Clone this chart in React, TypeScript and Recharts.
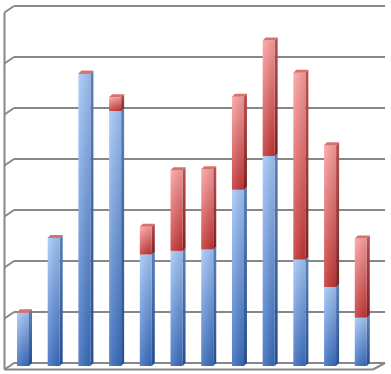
import { BarChart, Bar, XAxis, YAxis, CartesianGrid } from "recharts";

const months = ["Jan", "Feb", "Mar", "Apr", "May", "Jun", "Jul", "Aug", "Sep", "Oct", "Nov", "Dec"];
const baseValues = [1.05, 2.51, 5.73, 5.0, 2.19, 2.26, 2.29, 3.46, 4.12, 2.09, 1.55, 0.95];
const topValues = [0, 0, 0, 0.27, 0.54, 1.58, 1.57, 1.82, 2.26, 3.66, 2.78, 1.55];
const yTicks = [0, 1, 2, 3, 4, 5, 6, 7];

const data = months.map((m, i) => ({ month: m, base: baseValues[i], top: topValues[i] }));

const W = 391;
const H = 374;
const M = { top: 6, right: 8.5, bottom: 11, left: 14 };
const GRID = "#878787";
const GRID_EXTRA = 2.5; // back wall reaches a little past the last category band
const SHIFT_X = -6; // bars sit in front of the back wall
const SHIFT_Y = 3;
const DEPTH = 3;

const GridLine = (props: any) => {
  const { x1, y1 } = props;
  const x2 = props.x2 + GRID_EXTRA;
  const bottom = Math.abs(y1 - (H - M.bottom)) < 1;
  return (
    <g key={props.key ?? `g-${y1}`}>
      <line x1={x1} y1={y1} x2={x2} y2={y1} stroke={GRID} strokeWidth={2} />
      <line x1={x1 - 9.5} y1={y1 + 6.5} x2={x1} y2={y1} stroke={GRID} strokeWidth={2} />
      {bottom && (
        <>
          <line x1={x1 - 9.5} y1={M.top + 6.5} x2={x1 - 9.5} y2={y1 + 6.5} stroke={GRID} strokeWidth={2} />
          <line x1={x1 - 9.5} y1={y1 + 6.5} x2={x2 - 12} y2={y1 + 6.5} stroke={GRID} strokeWidth={2} />
          <line x1={x2 - 12} y1={y1 + 6.5} x2={x2} y2={y1} stroke={GRID} strokeWidth={2} />
        </>
      )}
    </g>
  );
};

const makeShape = (kind: "blue" | "red") => (props: any) => {
  const { x, y, width, height } = props;
  if (x == null || y == null) return <g />;
  const X = x + SHIFT_X;
  const Y = y + SHIFT_Y;
  const w = width;
  const h = Math.max(0, height);
  const d = DEPTH;
  return (
    <g>
      <polygon
        points={`${X + w},${Y} ${X + w + d},${Y - d} ${X + w + d},${Y + h - d} ${X + w},${Y + h}`}
        fill={`url(#${kind}Side)`}
      />
      {h > 0 && <rect x={X} y={Y} width={w} height={h} fill={`url(#${kind}Front)`} />}
      {h > 0 && <rect x={X} y={Y} width={w} height={h} fill="url(#shade)" />}
      <polygon
        points={`${X},${Y} ${X + d},${Y - d} ${X + w + d},${Y - d} ${X + w},${Y}`}
        fill="#d8706c"
      />
    </g>
  );
};

export default function App() {
  return (
    <div style={{ position: "absolute", left: 0, top: 0, width: W, height: H, background: "#fff" }}>
      <BarChart width={W} height={H} data={data} margin={M} barSize={12}>
        <defs>
          <linearGradient id="blueFront" x1="0" y1="0" x2="0" y2="1">
            <stop offset="0%" stopColor="#a6c9fb" />
            <stop offset="100%" stopColor="#3a6dc0" />
          </linearGradient>
          <linearGradient id="blueSide" x1="0" y1="0" x2="0" y2="1">
            <stop offset="0%" stopColor="#5a7fb8" />
            <stop offset="100%" stopColor="#284f8c" />
          </linearGradient>
          <linearGradient id="redFront" x1="0" y1="0" x2="0" y2="1">
            <stop offset="0%" stopColor="#ffa2a2" />
            <stop offset="100%" stopColor="#c63636" />
          </linearGradient>
          <linearGradient id="redSide" x1="0" y1="0" x2="0" y2="1">
            <stop offset="0%" stopColor="#b85050" />
            <stop offset="100%" stopColor="#7c2222" />
          </linearGradient>
          <linearGradient id="shade" x1="0" y1="0" x2="1" y2="0">
            <stop offset="0%" stopColor="#ffffff" stopOpacity={0.14} />
            <stop offset="100%" stopColor="#000000" stopOpacity={0.1} />
          </linearGradient>
        </defs>
        <CartesianGrid vertical={false} horizontal={GridLine as any} />
        <XAxis dataKey="month" hide />
        <YAxis hide domain={[0, 7]} ticks={yTicks} width={0} />
        <Bar dataKey="base" stackId="s" shape={makeShape("blue")} isAnimationActive={false} />
        <Bar dataKey="top" stackId="s" shape={makeShape("red")} isAnimationActive={false} />
      </BarChart>
    </div>
  );
}
